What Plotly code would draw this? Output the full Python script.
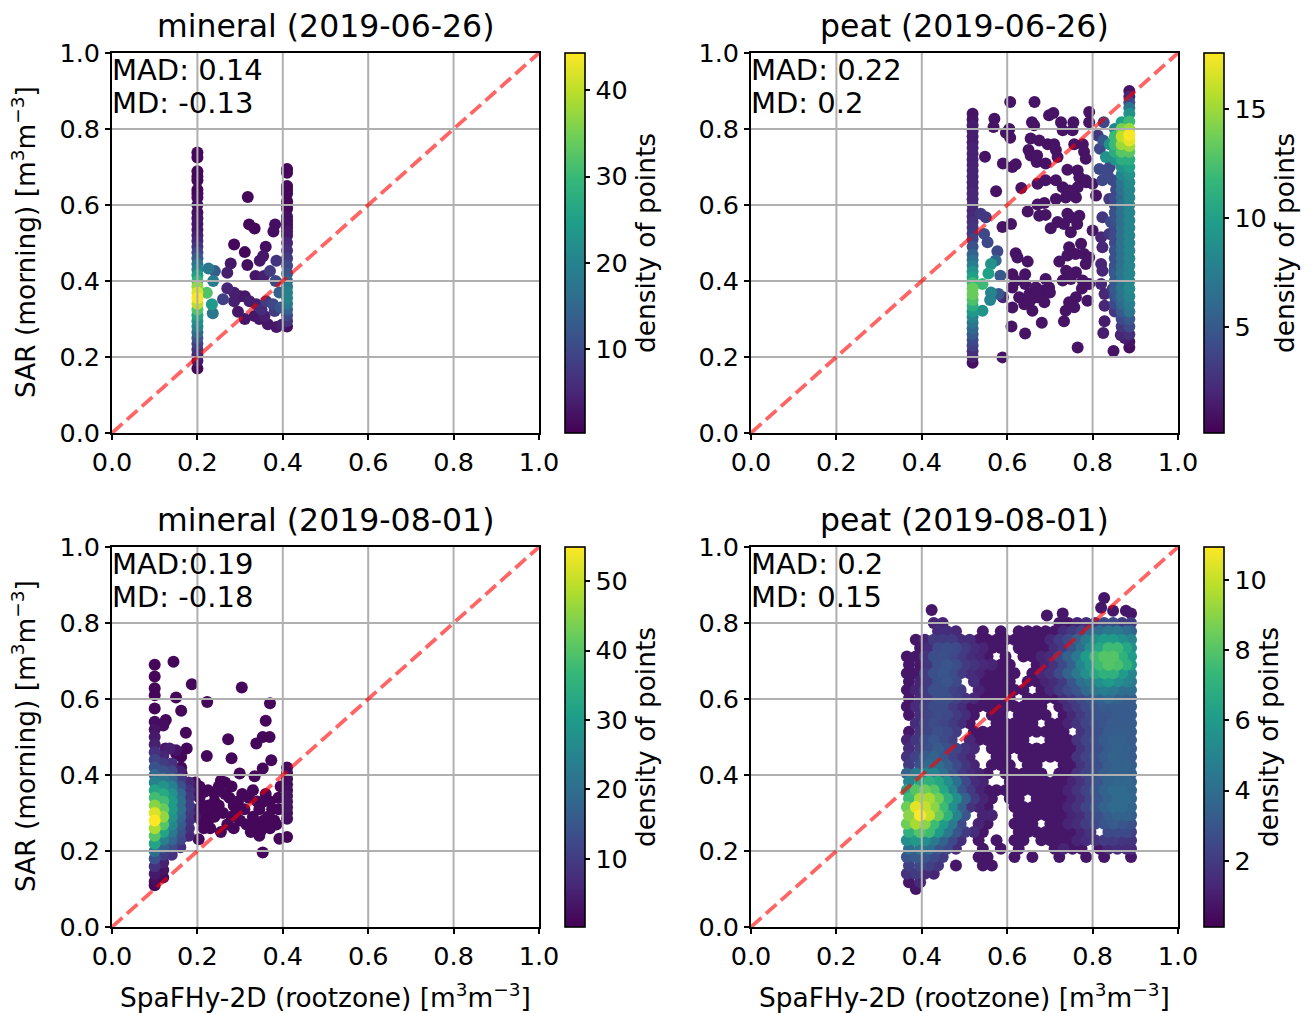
import plotly.graph_objects as go

W, H = 1313, 1013
TICKS = [0.0, 0.2, 0.4, 0.6, 0.8, 1.0]
FONT = "DejaVu Sans"
TITLES = ["mineral (2019-06-26)", "peat (2019-06-26)", "mineral (2019-08-01)", "peat (2019-08-01)"]
MAD_TEXT = ["MAD: 0.14", "MAD: 0.22", "MAD:0.19", "MAD: 0.2"]
MD_TEXT = ["MD: -0.13", "MD: 0.2", "MD: -0.18", "MD: 0.15"]
CBAR_TICKS = [[10, 20, 30, 40], [5, 10, 15], [10, 20, 30, 40, 50], [2, 4, 6, 8, 10]]
CBAR_RANGE = [(0.3, 44.3), (0.1, 17.6), (0.2, 54.9), (0.11, 10.94)]

# ---- panel 1: mineral 2019-06-26
P1_X_LEFT = 0.2
P1_LEFT = [(.738, 1), (.725, 1), (.689, 1), (.675, 1), (.665, 1), (.64, 1), (.63, 1), (.62, 1.5), (.60, 2), (.58, 2),
           (.565, 2.5), (.55, 3), (.535, 3), (.52, 4), (.505, 5), (.49, 7), (.475, 10), (.46, 13), (.445, 17),
           (.43, 20), (.415, 25), (.40, 29), (.385, 37), (.37, 42), (.355, 44), (.34, 40), (.325, 32), (.31, 26),
           (.295, 22), (.28, 20), (.265, 16), (.25, 12), (.235, 9), (.22, 7), (.205, 5), (.19, 3), (.17, 1)]
P1_X_RIGHT = 0.41
P1_RIGHT = [(.695, 1), (.685, 1), (.65, 1), (.64, 1), (.63, 1), (.61, 1), (.60, 1), (.59, 1), (.57, 2), (.56, 2),
            (.55, 2), (.54, 2), (.53, 3), (.52, 3), (.50, 5), (.48, 6), (.46, 8), (.44, 10), (.42, 12), (.40, 14),
            (.385, 18), (.37, 20), (.355, 20), (.34, 18), (.325, 14), (.31, 10), (.295, 7), (.28, 2)]
P1_SCATTER = [(.318, .621, 1), (.321, .549, 1), (.334, .538, 1), (.286, .496, 1), (.311, .476, 1), (.36, .49, 2),
              (.382, .549, 2), (.378, .53, 2), (.354, .466, 3), (.346, .453, 3), (.385, .453, 7), (.317, .442, 2),
              (.278, .446, 3), (.27, .422, 4), (.37, .426, 8), (.336, .413, 3), (.356, .413, 4), (.383, .40, 10),
              (.241, .426, 13), (.226, .433, 18), (.237, .40, 19), (.222, .369, 32), (.234, .339, 24),
              (.236, .315, 18), (.26, .352, 9), (.27, .381, 5), (.286, .369, 4), (.286, .347, 4), (.311, .36, 3),
              (.295, .319, 3), (.322, .347, 4), (.311, .30, 3), (.338, .339, 4), (.334, .308, 3), (.357, .308, 4),
              (.365, .286, 3), (.385, .279, 3), (.361, .347, 8), (.377, .339, 10), (.381, .321, 8), (.345, .30, 3),
              (.398, .285, 4), (.30, .36, 3), (.35, .325, 6), (.395, .33, 12), (.392, .37, 14)]

# ---- panel 2: peat 2019-06-26
P2_X_LEFT = 0.519
P2_LEFT = [(.84, 1), (.825, 1), (.81, 1.5), (.795, 1.5), (.78, 1.5), (.765, 1.5), (.75, 1.7), (.735, 1.7), (.72, 1.7),
           (.705, 1.7), (.69, 1.8), (.675, 1.8), (.66, 1.8), (.645, 1.8), (.63, 2), (.615, 2), (.60, 2), (.585, 2),
           (.57, 2.2), (.555, 2.5), (.54, 2.7), (.525, 3), (.51, 3.5), (.49, 4.5), (.47, 5.5), (.455, 6.5),
           (.44, 7.5), (.425, 9), (.41, 10), (.395, 12), (.38, 13.5), (.365, 13.5), (.35, 12.5), (.335, 11),
           (.32, 9.5), (.305, 8), (.29, 7), (.275, 6), (.26, 5), (.245, 4), (.23, 3.5), (.215, 2.5), (.20, 1.5),
           (.185, 0.8)]
P2_X_RIGHT = 0.886
P2_RIGHT = [(.90, 1), (.885, 2), (.87, 4), (.855, 7), (.84, 9), (.82, 12), (.80, 15), (.785, 17.5), (.77, 17),
            (.755, 15), (.74, 13), (.72, 11), (.70, 10), (.68, 9), (.66, 8.5), (.64, 8.2), (.62, 8), (.60, 8), (.58, 8),
            (.56, 8), (.54, 8), (.52, 8), (.50, 8), (.48, 8), (.46, 8), (.44, 8), (.42, 8), (.40, 8), (.38, 8.3),
            (.36, 8), (.34, 7.5), (.32, 7), (.30, 5), (.28, 4), (.26, 2.5), (.24, 1), (.225, 0.8)]
P2_X_NEAR = 0.868
P2_NEAR = [(.818, 10), (.80, 14), (.78, 16), (.76, 15), (.74, 13), (.72, 11), (.70, 9), (.68, 8), (.66, 7), (.64, 6.5),
           (.62, 6), (.60, 6.5), (.58, 6.5), (.56, 6.5), (.54, 6.5), (.52, 6.5), (.50, 6.5), (.48, 6.5), (.46, 6.5),
           (.44, 6.5), (.42, 7), (.40, 7), (.38, 7), (.36, 6.5), (.34, 6), (.32, 5), (.30, 4), (.28, 3), (.26, 2)]
P2_X_MID = 0.852
P2_MID = [(.80, 8), (.78, 12), (.76, 12), (.74, 11), (.72, 9), (.62, 4), (.60, 4), (.58, 4.5), (.56, 4.5), (.54, 4),
          (.52, 4), (.50, 4), (.48, 4.5), (.46, 4.5), (.44, 4.5), (.42, 5), (.40, 5), (.38, 5), (.36, 4.5), (.34, 4),
          (.32, 3)]
P2_SPARSE = [(.607, .871), (.664, .871), (.57, .827), (.568, .805), (.698, .836), (.708, .842), (.658, .818),
             (.663, .81), (.726, .818), (.755, .818), (.73, .797), (.753, .797), (.792, .845), (.792, .818),
             (.605, .80), (.597, .79), (.607, .777), (.655, .775), (.675, .77), (.695, .76), (.71, .76), (.65, .745),
             (.714, .745), (.655, .73), (.67, .73), (.669, .713), (.69, .709), (.718, .726), (.757, .76), (.777, .76),
             (.78, .74), (.784, .722), (.548, .727), (.59, .709), (.612, .70), (.62, .707), (.741, .693), (.765, .691),
             (.769, .673), (.785, .66), (.633, .645), (.574, .636), (.671, .656), (.69, .665), (.714, .665),
             (.73, .647), (.745, .638), (.765, .647), (.784, .665), (.80, .656), (.808, .625), (.761, .62), (.714, .616),
             (.737, .62), (.671, .601), (.687, .605), (.648, .583), (.675, .572), (.69, .574), (.741, .577),
             (.769, .572), (.749, .568), (.609, .55), (.589, .542), (.702, .539), (.718, .555), (.733, .55),
             (.749, .528), (.80, .533), (.764, .55), (.745, .489), (.773, .498), (.741, .467), (.76, .471), (.78, .471),
             (.62, .473), (.624, .462), (.722, .451), (.648, .451), (.784, .445), (.792, .462), (.738, .427),
             (.761, .423), (.612, .418), (.642, .418), (.62, .401), (.69, .405), (.73, .401), (.749, .405), (.777, .401),
             (.792, .392), (.642, .392), (.612, .383), (.698, .383), (.667, .383), (.683, .375), (.612, .33),
             (.628, .357), (.652, .366), (.671, .357), (.687, .344), (.659, .322), (.64, .339), (.745, .344),
             (.761, .357), (.788, .348), (.737, .322), (.757, .331), (.733, .294), (.681, .29), (.61, .28), (.642, .262),
             (.765, .225), (.849, .216), (.589, .199), (.75, .42), (.775, .38), (.68, .36), (.70, .37), (.655, .35)]
P2_COLOURED = [(.826, .818, 4), (.812, .783, 3), (.825, .77, 5), (.817, .748, 4), (.831, .726, 9), (.84, .76, 9),
               (.816, .695, 4), (.823, .665, 4), (.847, .665, 4), (.839, .616, 3), (.823, .568, 3), (.843, .555, 4),
               (.839, .524, 3), (.82, .515, 2), (.823, .489, 2), (.855, .48, 4), (.82, .445, 2), (.823, .427, 2),
               (.851, .427, 4), (.82, .392, 2), (.847, .379, 3), (.828, .366, 2), (.862, .357, 5), (.828, .335, 2),
               (.859, .322, 3), (.828, .294, 1.5), (.825, .263, 1.5), (.866, .258, 1.5), (.875, .25, 1.5),
               (.55, .568, 3), (.538, .577, 3), (.546, .524, 4), (.554, .502, 4), (.577, .478, 4), (.562, .445, 9),
               (.573, .454, 6), (.556, .42, 10), (.584, .414, 5), (.562, .37, 8), (.56, .35, 8), (.58, .366, 5),
               (.59, .357, 2), (.542, .322, 9), (.542, .392, 12), (.84, .70, 4), (.835, .68, 4), (.855, .64, 4)]

# ---- panel 3: mineral 2019-08-01
P3_COLUMNS_X = [.10, .12, .14, .16, .18]
P3_COLUMNS = [
    [(.69, 1), (.659, 1), (.628, 1), (.61, 1), (.575, 1), (.54, 2), (.52, 3), (.50, 4), (.48, 5), (.46, 8), (.44, 11),
     (.42, 14), (.40, 19), (.38, 24), (.36, 32), (.34, 38), (.32, 45), (.30, 52), (.28, 55), (.26, 48), (.24, 40),
     (.22, 32), (.20, 20), (.18, 14), (.16, 8), (.14, 4), (.12, 2), (.11, 1)],
    [(.53, 2), (.45, 6), (.43, 10), (.41, 14), (.39, 22), (.37, 28), (.35, 33), (.33, 38), (.31, 42), (.29, 46),
     (.27, 40), (.25, 32), (.23, 24), (.21, 17), (.19, 10), (.17, 5), (.15, 3), (.13, 2)],
    [(.43, 8), (.41, 12), (.39, 18), (.37, 24), (.35, 28), (.33, 30), (.31, 30), (.29, 28), (.27, 26), (.25, 22),
     (.23, 18), (.21, 13), (.19, 8)],
    [(.41, 5), (.39, 10), (.37, 14), (.35, 18), (.33, 20), (.31, 20), (.29, 18), (.27, 16), (.25, 14), (.23, 12),
     (.21, 8)],
    [(.38, 6), (.36, 8), (.34, 9), (.32, 10), (.30, 9), (.28, 8), (.26, 7), (.24, 6)],
]
P3_X_RIGHT = 0.41
P3_RIGHT = [(.42, 2), (.405, 2), (.39, 2), (.375, 2), (.36, 2.5), (.345, 3), (.33, 3), (.315, 3), (.30, 2.5), (.285, 2),
            (.237, 1)]
P3_SPARSE = [(.144, .698), (.187, .639), (.304, .63), (.15, .604), (.223, .592), (.37, .589), (.162, .569), (.36, .543),
             (.126, .545), (.173, .511), (.272, .494), (.353, .50), (.369, .50), (.338, .483), (.175, .47), (.15, .457),
             (.162, .448), (.222, .45), (.28, .444), (.373, .439), (.353, .417), (.162, .42), (.163, .404), (.299, .404),
             (.334, .397), (.392, .232), (.353, .196), (.203, .231), (.195, .38), (.255, .385), (.265, .38), (.40, .37),
             (.205, .34), (.215, .355), (.225, .36), (.24, .35), (.21, .32), (.225, .32), (.24, .33), (.205, .30),
             (.22, .30), (.235, .31), (.21, .28), (.225, .28), (.24, .29), (.215, .26), (.23, .26), (.25, .32),
             (.26, .30), (.265, .35), (.25, .37), (.28, .37), (.275, .34), (.285, .32), (.28, .29), (.295, .33),
             (.305, .35), (.29, .30), (.27, .27), (.255, .25), (.285, .26), (.30, .28), (.31, .31), (.32, .34),
             (.33, .36), (.34, .33), (.345, .31), (.33, .29), (.315, .27), (.325, .25), (.345, .24), (.34, .27),
             (.355, .28), (.355, .33), (.36, .35), (.37, .33), (.375, .31), (.365, .29), (.38, .28), (.37, .26),
             (.35, .255), (.39, .34), (.39, .31), (.385, .27), (.395, .37), (.205, .37)]
P3_COLOURED = [(.187, .37, 3), (.19, .31, 4), (.174, .241, 2), (.19, .35, 3), (.195, .29, 3), (.15, .465, 3),
               (.135, .47, 5), (.125, .47, 4)]

# ---- panel 4: peat 2019-08-01 (density on a staggered sampling of the cloud; 0 = no point)
P4_X_EVEN = [.365, .386, .407, .428, .449, .47, .491, .512, .533, .554, .575, .596, .617, .638, .659, .68, .701, .722,
             .743, .764, .785, .806, .827, .848, .869, .89]
P4_X_ODD = [.37, .396, .417, .438, .459, .48, .501, .522, .543, .564, .585, .606, .627, .648, .669, .69, .711, .732,
            .753, .774, .795, .816, .837, .858, .879, .89]
P4_Y = [.80, .778, .756, .734, .712, .69, .668, .646, .624, .602, .58, .558, .536, .514, .492, .47, .448, .426, .404,
        .382, .36, .338, .316, .294, .272, .25, .228, .206, .184, .162, .14, .118, .10]
P4_D = [
    [0, 0, 0, 1.2, 1.2, 0, 0, 0, 0, 0, 0, 0, 0, 0, 0, 0, 0, .8, .8, 1.2, 1.5, 2, 2.5, 2.5, 2, 2],
    [0, 0, 0, 1.5, 1.5, 1.3, 0, 0, .8, 0, .8, 0, .8, .8, .8, .8, .8, 1.5, 2, 2.5, 3.5, 4, 4.5, 4.5, 4, 3.5],
    [0, .8, 1.2, 2, 2, 2, 1.5, 1.5, .8, .8, .8, .8, .8, .8, .8, .8, 1.3, 2, 2.5, 3.5, 4.5, 5.5, 6, 6, 5.5, 5],
    [0, .8, 1.5, 2.5, 2.7, 2.5, 2, 1.5, 1.2, .8, .8, 0, .8, .8, .8, .8, 1.5, 2, 3, 4, 5.5, 6.5, 7.5, 7.5, 6.5, 5.5],
    [.8, .8, 1.7, 2.7, 2.8, 2.5, 2, 1.5, 1.2, .8, 0, .8, 0, .8, .8, 1.2, 1.5, 2.5, 3.5, 4.5, 6, 7.5, 8, 8, 7, 6],
    [.8, .8, 1.8, 2.8, 3, 2.7, 2, 1.7, 1.3, 1.2, .8, .8, 0, 0, .8, 1.2, 1.7, 2.5, 3.5, 5, 6, 7.5, 8, 7.8, 7, 6],
    [.8, .8, 2, 2.8, 3, 2.7, 2, 1.5, 1.2, .8, .8, .8, .8, 0, .8, 1.3, 1.7, 2.5, 3.5, 4.5, 5.5, 6.5, 7, 7, 6, 5],
    [.8, 1.2, 2, 2.8, 3, 2.5, 0, 1.5, .8, .8, .8, .8, 0, .8, .8, 1.2, 1.5, 2, 3, 4, 4.5, 5.5, 6, 5.5, 5, 4.5],
    [.8, 1.2, 2, 2.8, 2.8, 2.3, 2, 0, 1.2, .8, .8, .8, .8, .8, 0, .8, 1.3, 2, 2.5, 3, 3.8, 4.5, 4.7, 4.5, 4, 4],
    [.8, 1.3, 2, 2.7, 2.7, 2.2, 1.7, 1.3, .8, .8, .8, .8, 0, .8, .8, .8, .8, 1.5, 2, 2.5, 3, 3.5, 3.8, 3.5, 3.3, 3.2],
    [.8, 1.4, 2.2, 2.6, 2.6, 2, 1.5, .8, .8, .8, .8, .8, .8, .8, .8, .8, 0, .8, 1.5, 2, 2.5, 3, 3.2, 3.2, 3.2, 3.2],
    [.8, 1.5, 2.3, 2.6, 2.5, 2, 1.5, .8, 0, .8, .8, 0, .8, .8, .8, .8, 0, .8, 1.3, 2, 2.5, 3, 3, 3.2, 3.2, 3.2],
    [0, 1.5, 2.3, 2.6, 2.4, 2, 1.5, .8, 0, 0, .8, .8, .8, .8, .8, 0, .8, .8, 1.2, 1.7, 2.3, 2.8, 3, 3.2, 3.2, 3.2],
    [.8, 1.7, 2.4, 2.8, 2.5, 2, 0, .8, .8, .8, .8, .8, .8, .8, .8, .8, .8, .8, 0, 1.7, 2.3, 2.8, 3.2, 3.3, 3.3, 3.2],
    [1.2, 1.8, 2.6, 3, 2.6, 2.2, 0, 1.3, .8, .8, .8, .8, .8, .8, 0, 0, .8, .8, .8, 1.7, 2.3, 2.8, 3.2, 3.4, 3.4, 3.2],
    [1.5, 2, 2.8, 3.2, 2.8, 2.3, 1.7, 1.3, 0, .8, .8, .8, .8, .8, .8, .8, .8, .8, .8, 1.7, 2.3, 2.8, 3.2, 3.5, 3.4, 3.2],
    [1.7, 2.3, 3.2, 3.5, 3, 2.3, 1.7, 1.2, 0, 0, .8, .8, 0, .8, .8, .8, .8, .8, .8, 1.7, 2.3, 2.8, 3.2, 3.5, 3.4, 3.2],
    [2, 2.8, 3.8, 4, 3.3, 2.5, 1.8, 1.2, 0, .8, .8, .8, 0, .8, .8, 0, 0, .8, .8, 1.7, 2.3, 2.8, 3.3, 3.5, 3.5, 3.3],
    [3.5, 4.5, 5, 5, 4, 3, 2, 1.5, 1.2, .8, 0, .8, .8, .8, .8, .8, 0, .8, .8, 1.7, 2.3, 2.8, 3.3, 3.5, 3.5, 3.4],
    [5, 6.5, 7, 6.5, 5.5, 4, 2.5, 1.5, 1.2, 0, 0, .8, .8, .8, .8, .8, .8, .8, 1.2, 1.7, 2.3, 3, 3.5, 3.7, 3.7, 3.5],
    [6.5, 8, 8.5, 8, 6.5, 5, 3, 2, 1.2, .8, .8, .8, .8, .8, .8, .8, .8, .8, 1.2, 1.7, 2.3, 3, 3.5, 3.8, 3.8, 3.6],
    [7.5, 9.5, 9.5, 8.5, 7, 5.5, 3.5, 2, 1.2, .8, 0, .8, .8, 0, .8, .8, .8, .8, 1.2, 1.7, 2.3, 3, 3.5, 3.8, 3.8, 3.6],
    [8.5, 10.5, 10, 9, 7.5, 5.5, 3.5, 1.7, 1.2, .8, 0, 0, .8, .8, .8, .8, .8, .8, 1.2, 1.7, 2.3, 3, 3.5, 3.8, 3.8, 3.6],
    [9, 10.9, 10, 8.5, 7, 5, 3, 0, 1.2, 1.2, 0, 0, .8, .8, .8, .8, .8, .8, 1.2, 1.5, 2.2, 2.8, 3.3, 3.5, 3.5, 3.3],
    [8.5, 9.5, 9, 7.5, 6, 4.5, 2.5, 0, 1.2, .8, 0, 0, .8, .8, .8, 0, .8, .8, 1.2, 1.5, 2, 2.5, 3, 3.2, 3, 2.8],
    [7, 8, 7.5, 6, 4.5, 3, 2, 1.5, .8, 0, 0, 0, .8, .8, .8, .8, .8, .8, .8, 1.2, 1.7, 0, 2.5, 2.5, 2.5, 2.2],
    [5.5, 6, 5.5, 4.5, 3.5, 2.5, 1.5, 0, .8, 0, .8, 0, .8, .8, 0, .8, .8, .8, .8, 1.2, 1.5, 1.7, 2, 2, 1.8, 1.8],
    [4, 4.5, 4, 3, 2.5, 1.5, 0, 0, .8, 0, .8, 0, .8, 0, 0, 0, .8, 1.2, .8, .8, 0, .8, 1.3, 1.5, 1.5, 1.5],
    [3, 3.2, 3, 2.5, 2, 0, 0, 0, .8, .8, 0, 0, .8, 0, .8, 0, 0, .8, 0, 0, .8, 0, .8, 0, 0, .8],
    [2.2, 2.5, 2.2, 1.8, 0, .8, 0, 0, .8, .8, 0, 0, 0, 0, 0, 0, 0, 0, 0, 0, 0, 0, 0, 0, 0, 0],
    [1.7, 2, 1.5, 1.2, 0, 0, 0, 0, 0, 0, 0, 0, 0, 0, 0, 0, 0, 0, 0, 0, 0, 0, 0, 0, 0, 0],
    [.8, 1.3, 0, 0, 0, 0, 0, 0, 0, 0, 0, 0, 0, 0, 0, 0, 0, 0, 0, 0, 0, 0, 0, 0, 0, 0],
    [0, .8, 0, 0, 0, 0, 0, 0, 0, 0, 0, 0, 0, 0, 0, 0, 0, 0, 0, 0, 0, 0, 0, 0, 0, 0],
]
P4_SPARSE = [(.423, .834), (.827, .866), (.82, .84), (.693, .82), (.73, .825), (.848, .832), (.878, .832), (.89, .825)]


def column(x, rows):
    return [(x, y, d) for y, d in rows]


panel1 = column(P1_X_LEFT, P1_LEFT) + column(P1_X_RIGHT, P1_RIGHT) + P1_SCATTER
panel2 = (column(P2_X_LEFT, P2_LEFT) + column(P2_X_RIGHT, P2_RIGHT) + column(P2_X_NEAR, P2_NEAR)
          + column(P2_X_MID, P2_MID) + [(x, y, 1) for x, y in P2_SPARSE] + P2_COLOURED)
panel3 = column(P3_X_RIGHT, P3_RIGHT) + [(x, y, 1.2) for x, y in P3_SPARSE] + P3_COLOURED
for cx, rows in zip(P3_COLUMNS_X, P3_COLUMNS):
    panel3 += column(cx, rows)
panel4 = [(x, y, .8) for x, y in P4_SPARSE]
for i, (y, row) in enumerate(zip(P4_Y, P4_D)):
    xs = P4_X_ODD if i % 2 else P4_X_EVEN
    panel4 += [(x, y, d) for x, d in zip(xs, row) if d > 0]
PANELS = [panel1, panel2, panel3, panel4]

# pixel layout of the axes boxes
BOXES = [(112, 539, 53, 433), (751, 1178, 53, 433), (112, 539, 547, 927), (751, 1178, 547, 927)]
TICK_SIZE = 25.5
LABEL_SIZE = 26.4
TITLE_SIZE = 31.5
NOTE_SIZE = 29
fig = go.Figure()
annotations = []
for k, (pts, box) in enumerate(zip(PANELS, BOXES)):
    l, r, t, b = box
    suffix = "" if k == 0 else str(k + 1)
    axx, axy = "x" + suffix, "y" + suffix
    common = dict(range=[0, 1], tickvals=TICKS, tickformat=".1f", ticks="outside", ticklen=5, tickwidth=1.6,
                  tickcolor="black", showline=True, linecolor="black", linewidth=1.8, mirror=True, showgrid=False,
                  zeroline=False, tickfont=dict(family=FONT, size=TICK_SIZE, color="black"))
    xa = dict(common, domain=[l / W, r / W], anchor=axy)
    ya = dict(common, domain=[1 - b / H, 1 - t / H], anchor=axx)
    fig.update_layout({"xaxis" + suffix: xa, "yaxis" + suffix: ya})
    if k >= 2:
        annotations.append(dict(text="SpaFHy-2D (rootzone) [m<sup>3</sup>m<sup>−3</sup>]", x=(l + r) / 2 / W,
                                y=1 - 996 / H, xref="paper", yref="paper", showarrow=False, xanchor="center",
                                yanchor="middle", font=dict(family=FONT, size=LABEL_SIZE, color="black")))
    if k % 2 == 0:
        annotations.append(dict(text="SAR (morning) [m<sup>3</sup>m<sup>−3</sup>]", x=24 / W,
                                y=1 - (t + b - 2) / 2 / H, xref="paper", yref="paper", showarrow=False, textangle=-90,
                                xanchor="center", yanchor="middle",
                                font=dict(family=FONT, size=LABEL_SIZE, color="black")))

    pts = sorted(pts, key=lambda p: p[2])
    xs = [p[0] for p in pts]
    ys = [p[1] for p in pts]
    ds = [p[2] for p in pts]
    cmin, cmax = CBAR_RANGE[k]
    fig.add_trace(go.Scatter(
        x=xs, y=ys, mode="markers", xaxis=axx, yaxis=axy, showlegend=False, hoverinfo="skip",
        marker=dict(size=12, color=ds, colorscale="Viridis", cmin=cmin, cmax=cmax, line=dict(width=0),
                    colorbar=dict(x=(r + 26) / W, xanchor="left", xpad=0, ypad=0, thickness=20, thicknessmode="pixels",
                                  y=1 - (t + b) / 2 / H, yanchor="middle", len=(b - t) / H, lenmode="fraction",
                                  tickvals=CBAR_TICKS[k], ticks="outside", ticklen=5, tickwidth=1.6, tickcolor="black",
                                  outlinewidth=1.6, outlinecolor="black", tickprefix="\u00a0",
                                  tickfont=dict(family=FONT, size=TICK_SIZE, color="black"),
                                  title=dict(text="density of points", side="right",
                                             font=dict(family=FONT, size=LABEL_SIZE, color="black"))))))
    for tv in TICKS[1:-1]:
        fig.add_trace(go.Scatter(x=[tv, tv], y=[0, 1], mode="lines", xaxis=axx, yaxis=axy, showlegend=False,
                                 hoverinfo="skip", line=dict(color="#b0b0b0", width=2)))
        fig.add_trace(go.Scatter(x=[0, 1], y=[tv, tv], mode="lines", xaxis=axx, yaxis=axy, showlegend=False,
                                 hoverinfo="skip", line=dict(color="#b0b0b0", width=2)))
    fig.add_trace(go.Scatter(x=[0, 1], y=[0, 1], mode="lines", xaxis=axx, yaxis=axy, showlegend=False, hoverinfo="skip",
                             opacity=0.6, line=dict(color="red", width=3.8, dash="14px,6px")))
    annotations.append(dict(text=TITLES[k], x=(l + r) / 2 / W, y=1 - (t - 27) / H, xref="paper", yref="paper",
                            showarrow=False, xanchor="center", yanchor="middle",
                            font=dict(family=FONT, size=TITLE_SIZE, color="black")))
    annotations.append(dict(text=MAD_TEXT[k], x=(l + 1) / W, y=1 - (t + 17) / H, xref="paper", yref="paper",
                            showarrow=False, xanchor="left", yanchor="middle", xshift=-3,
                            font=dict(family=FONT, size=NOTE_SIZE, color="black")))
    annotations.append(dict(text=MD_TEXT[k], x=(l + 1) / W, y=1 - (t + 50) / H, xref="paper", yref="paper",
                            showarrow=False, xanchor="left", yanchor="middle", xshift=-3,
                            font=dict(family=FONT, size=NOTE_SIZE, color="black")))

fig.update_layout(width=W, height=H, margin=dict(l=0, r=0, t=0, b=0, autoexpand=False), paper_bgcolor="white",
                  plot_bgcolor="white", showlegend=False, annotations=annotations, font=dict(family=FONT))
fig.write_html("out.html", post_script="document.body.style.margin='0';", config={"displayModeBar": False})
